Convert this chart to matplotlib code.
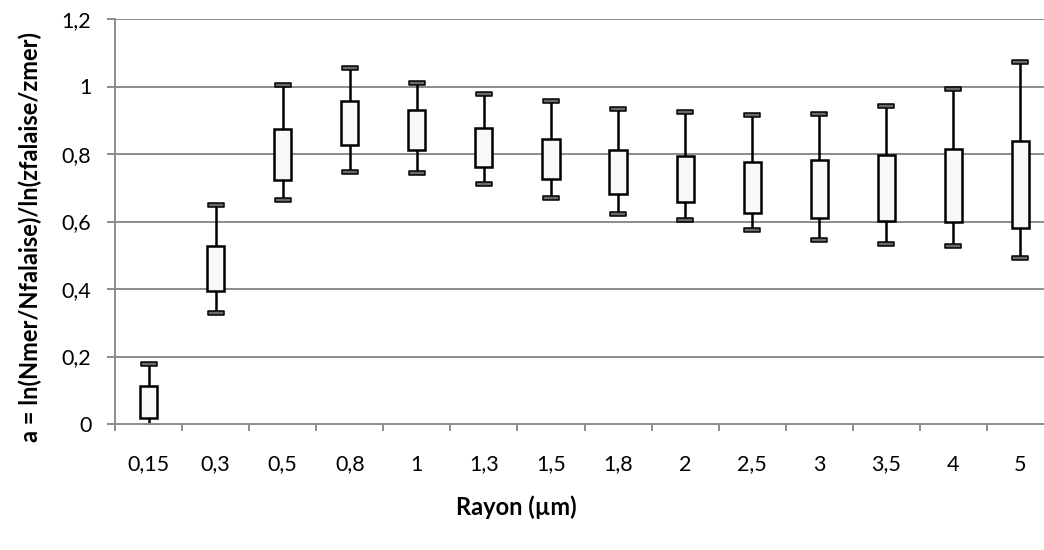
import matplotlib
matplotlib.use("Agg")
import matplotlib.pyplot as plt
import numpy as np
from matplotlib.path import Path

categories = ["0,15", "0,3", "0,5", "0,8", "1", "1,3", "1,5", "1,8", "2", "2,5", "3", "3,5", "4", "5"]
high  = [0.178, 0.648, 1.003, 1.055, 1.011, 0.978, 0.956, 0.933, 0.923, 0.915, 0.918, 0.943, 0.994, 1.072]
q3    = [0.113, 0.528, 0.875, 0.958, 0.931, 0.878, 0.845, 0.811, 0.793, 0.777, 0.782, 0.796, 0.816, 0.839]
q1    = [0.019, 0.395, 0.722, 0.826, 0.812, 0.761, 0.726, 0.681, 0.659, 0.625, 0.610, 0.602, 0.598, 0.580]
low   = [-0.01, 0.329, 0.663, 0.748, 0.744, 0.712, 0.669, 0.622, 0.603, 0.576, 0.546, 0.534, 0.526, 0.492]
yticks = [0, 0.2, 0.4, 0.6, 0.8, 1.0, 1.2]
ytick_labels = ["0", "0,2", "0,4", "0,6", "0,8", "1", "1,2"]

plt.rcParams['font.family'] = ['Lato', 'DejaVu Sans']

W, H = 1044, 550
fig = plt.figure(figsize=(W/100, H/100), dpi=100)
ax = fig.add_axes([115/W, 1 - 424/H, 939/W, 405/H])

x = np.arange(len(categories))
grid_c = '#8c8c8c'

ax.set_xlim(-0.5, len(categories) - 0.5)
ax.set_ylim(0, 1.2)

for y in yticks[1:]:
    ax.axhline(y, color=grid_c, lw=1.4, zorder=1)

ax.vlines(x, low, high, color='black', lw=1.8, zorder=2)
ax.bar(x, np.array(q3) - np.array(q1), bottom=q1, width=0.255,
       facecolor='#f8f8f8', edgecolor='black', linewidth=1.8, zorder=3)

cap = Path([(-1, -0.28), (1, -0.28), (1, 0.28), (-1, 0.28), (-1, -0.28)],
           [Path.MOVETO, Path.LINETO, Path.LINETO, Path.LINETO, Path.CLOSEPOLY])
for vals in (high, low):
    ax.plot(x, vals, ls='none', marker=cap, markersize=12,
            markerfacecolor='#6a6a6a', markeredgecolor='black',
            markeredgewidth=1.1, zorder=4)

for s in ['top', 'right']:
    ax.spines[s].set_visible(False)
for s in ['left', 'bottom']:
    ax.spines[s].set_color(grid_c)
    ax.spines[s].set_linewidth(1.4)
ax.spines['bottom'].set_zorder(5)

ax.set_yticks(yticks)
ax.set_yticklabels(ytick_labels, fontsize=15.5)
ax.set_xticks(x)
ax.set_xticklabels(categories, fontsize=15.5)
ax.set_xticks(np.arange(len(categories) + 1) - 0.5, minor=True)
ax.tick_params(axis='x', which='major', length=0, pad=22)
ax.tick_params(axis='x', which='minor', length=5, width=1.4, color=grid_c, direction='out')
ax.tick_params(axis='y', length=6, width=1.4, color=grid_c, direction='out', pad=11)

fig.text(516/W, 1 - 507/H, "Rayon (µm)", fontsize=17, fontweight='bold',
         ha='center', va='center')
fig.text(30/W, 1 - 237/H, "a = ln(Nmer/Nfalaise)/ln(zfalaise/zmer)", fontsize=17,
         fontweight='bold', rotation=90, ha='center', va='center')

fig.savefig("out.png", dpi=100)
